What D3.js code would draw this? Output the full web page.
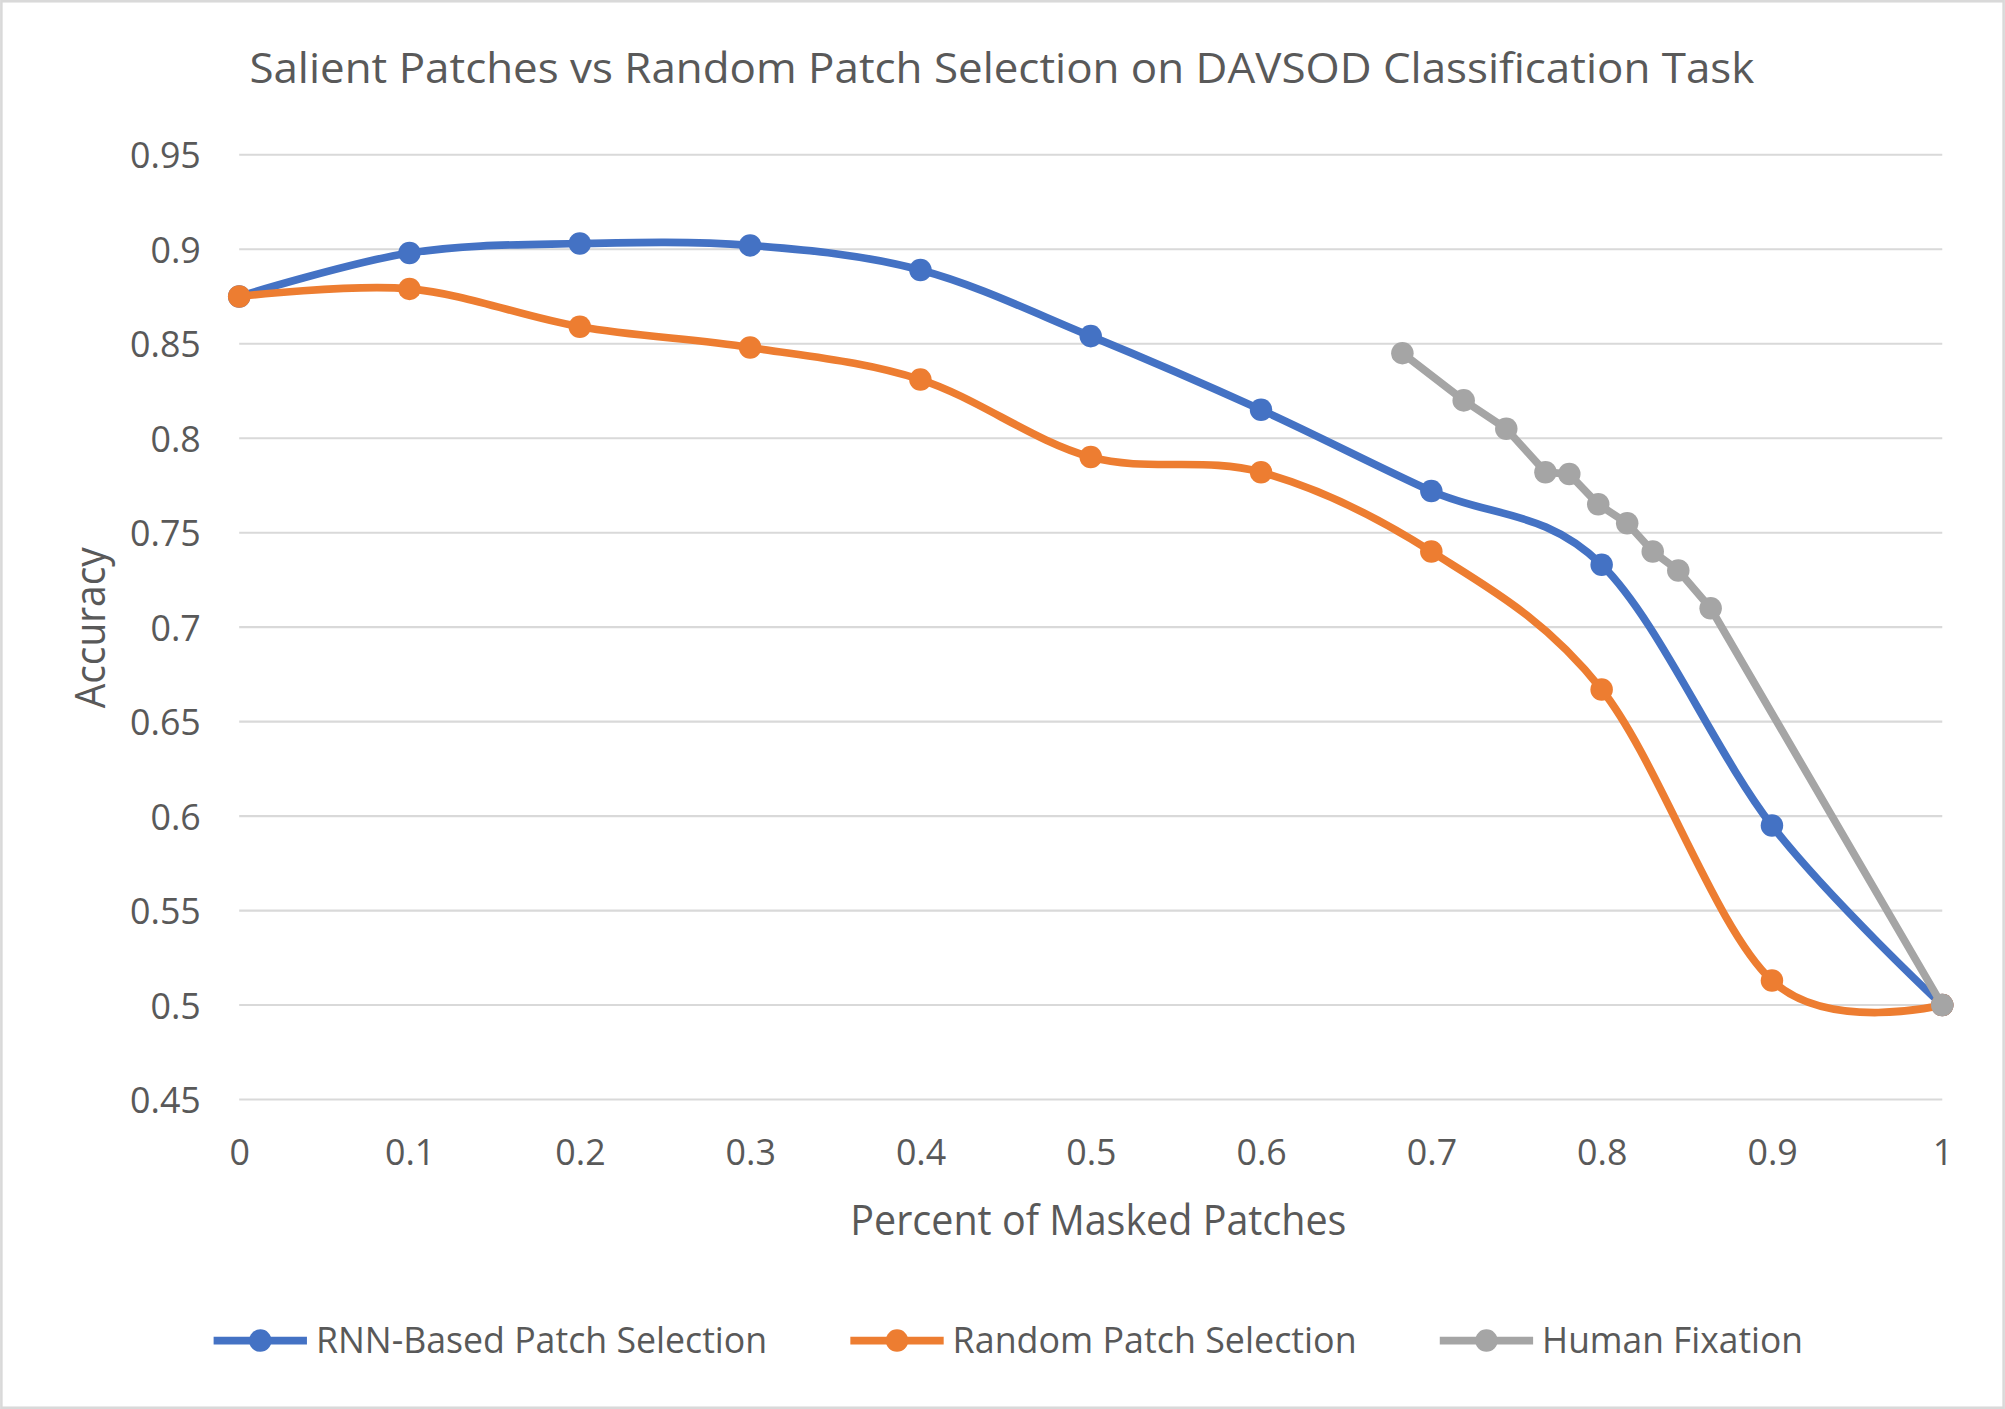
<!DOCTYPE html>
<html>
<head>
<meta charset="utf-8">
<script src="https://cdn.jsdelivr.net/npm/d3@7.9.0/dist/d3.min.js"></script>
<style>
  html, body { margin: 0; padding: 0; background: #fff; }
  svg { display: block; }
  text { font-family: "Open Sans", "Noto Sans", sans-serif; fill: #595959; }
</style>
</head>
<body>
<svg id="chart"></svg>
<script>
// Data
const maskedPct = [0, 0.1, 0.2, 0.3, 0.4, 0.5, 0.6, 0.7, 0.8, 0.9, 1];
const rnnAcc = [0.875, 0.898, 0.903, 0.902, 0.889, 0.854, 0.815, 0.772, 0.733, 0.595, 0.5];
const randomAcc = [0.875, 0.879, 0.859, 0.848, 0.831, 0.790, 0.782, 0.740, 0.667, 0.513, 0.5];
const fixationPct = [0.683, 0.719, 0.744, 0.767, 0.781, 0.798, 0.815, 0.830, 0.845, 0.864, 1];
const fixationAcc = [0.845, 0.820, 0.805, 0.782, 0.781, 0.765, 0.755, 0.740, 0.730, 0.710, 0.5];
const yTicks = [0.45, 0.5, 0.55, 0.6, 0.65, 0.7, 0.75, 0.8, 0.85, 0.9, 0.95];
const xTicks = maskedPct;
const seriesNames = ["RNN-Based Patch Selection", "Random Patch Selection", "Human Fixation"];

// Layout works in a 1568x1102 frame scaled up to the window
const W = 1568, H = 1102;
const margin = { left: 187, right: 49, top: 121, bottom: 242 };
const colors = ["#4472C4", "#ED7D31", "#A5A5A5"];
const lineW = 6, markerR = 8.8;

const svg = d3.select('#chart')
    .attr('width', 2005)
    .attr('height', 1409)
    .attr('viewBox', `0 0 ${W} ${H}`);

svg.append('rect')
    .attr('x', 1).attr('y', 1)
    .attr('width', W - 2).attr('height', H - 2)
    .attr('fill', '#fff')
    .attr('stroke', '#D9D9D9')
    .attr('stroke-width', 2);

const x = d3.scaleLinear().domain([0, 1]).range([margin.left, W - margin.right]);
const y = d3.scaleLinear().domain([0.45, 0.95]).range([H - margin.bottom, margin.top]);

// Gridlines
svg.append('g')
    .selectAll('line')
    .data(yTicks)
    .join('line')
    .attr('x1', x(0)).attr('x2', x(1))
    .attr('y1', d => y(d)).attr('y2', d => y(d))
    .attr('stroke', '#D9D9D9')
    .attr('stroke-width', 1.6);

// Axes (text only, Excel style)
const yAxis = svg.append('g')
    .attr('transform', `translate(${x(0) - 30},0)`)
    .call(d3.axisLeft(y).tickValues(yTicks).tickFormat(d => String(d)).tickSize(0).tickPadding(0));
yAxis.select('.domain').remove();
yAxis.selectAll('text')
    .attr('font-size', 28)
    .attr('dy', '0.36em');

const xAxis = svg.append('g')
    .attr('transform', `translate(0,${y(0.45) + 51})`)
    .call(d3.axisBottom(x).tickValues(xTicks).tickFormat(d => String(d)).tickSize(0).tickPadding(0));
xAxis.select('.domain').remove();
xAxis.selectAll('text')
    .attr('font-size', 28)
    .attr('dy', 0);

// Titles
svg.append('text')
    .attr('x', 783.5).attr('y', 65)
    .attr('text-anchor', 'middle')
    .attr('font-size', 33)
    .attr('textLength', 1177)
    .attr('lengthAdjust', 'spacingAndGlyphs')
    .text('Salient Patches vs Random Patch Selection on DAVSOD Classification Task');

svg.append('text')
    .attr('x', 859).attr('y', 966)
    .attr('text-anchor', 'middle')
    .attr('font-size', 33)
    .attr('textLength', 388)
    .attr('lengthAdjust', 'spacingAndGlyphs')
    .text('Percent of Masked Patches');

svg.append('text')
    .attr('transform', 'translate(82,491) rotate(-90)')
    .attr('text-anchor', 'middle')
    .attr('font-size', 33)
    .attr('textLength', 126)
    .attr('lengthAdjust', 'spacingAndGlyphs')
    .text('Accuracy');

// Series
const series = [
    { name: seriesNames[0], xs: maskedPct, ys: rnnAcc, color: colors[0], curve: d3.curveCatmullRom.alpha(0) },
    { name: seriesNames[1], xs: maskedPct, ys: randomAcc, color: colors[1], curve: d3.curveCatmullRom.alpha(0) },
    { name: seriesNames[2], xs: fixationPct, ys: fixationAcc, color: colors[2], curve: d3.curveLinear }
];

series.forEach(s => {
    const pts = s.xs.map((v, i) => [v, s.ys[i]]);
    const line = d3.line()
        .x(d => x(d[0]))
        .y(d => y(d[1]))
        .curve(s.curve);

    const g = svg.append('g');
    g.append('path')
        .attr('d', line(pts))
        .attr('fill', 'none')
        .attr('stroke', s.color)
        .attr('stroke-width', lineW)
        .attr('stroke-linejoin', 'round')
        .attr('stroke-linecap', 'round');

    g.selectAll('circle')
        .data(pts)
        .join('circle')
        .attr('cx', d => x(d[0]))
        .attr('cy', d => y(d[1]))
        .attr('r', markerR)
        .attr('fill', s.color);
});

// Legend
const legendItems = [
    { x0: 167, textX: 247, width: 353 },
    { x0: 665, textX: 745, width: 316 },
    { x0: 1126, textX: 1206, width: 204 }
];
const legendY = 1048.5;
const legend = svg.append('g');
series.forEach((s, i) => {
    const it = legendItems[i];
    legend.append('line')
        .attr('x1', it.x0).attr('x2', it.x0 + 73)
        .attr('y1', legendY).attr('y2', legendY)
        .attr('stroke', s.color)
        .attr('stroke-width', lineW);
    legend.append('circle')
        .attr('cx', it.x0 + 36.5).attr('cy', legendY)
        .attr('r', markerR)
        .attr('fill', s.color);
    legend.append('text')
        .attr('x', it.textX).attr('y', 1058)
        .attr('font-size', 28)
        .attr('textLength', it.width)
        .attr('lengthAdjust', 'spacingAndGlyphs')
        .text(s.name);
});
</script>
</body>
</html>
